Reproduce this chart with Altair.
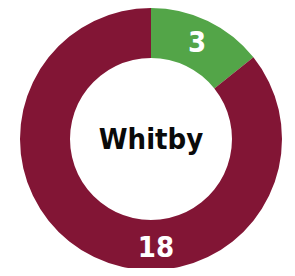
import math
import altair as alt
import pandas as pd

categories = ["Green", "Maroon"]
values = [3, 18]
colors = ["#53a548", "#821535"]
center_label = "Whitby"

df = pd.DataFrame({"category": categories, "value": values, "order": [0, 1]})
df_center = pd.DataFrame({"label": [center_label]})

color_scale = alt.Scale(domain=categories, range=colors)

base = alt.Chart(df).encode(
    theta=alt.Theta("value:Q", stack=True),
    order=alt.Order("order:Q"),
    color=alt.Color("category:N", scale=color_scale, legend=None),
)

arc = base.mark_arc(innerRadius=81, outerRadius=131, stroke=None)

label_font = "DejaVu Sans Condensed, DejaVu Sans, sans-serif"

text_first = base.mark_text(
    radius=106, font=label_font, fontWeight="bold", fontSize=29,
    baseline="middle", align="center",
).encode(
    text=alt.condition(alt.datum.category == categories[0], "value:Q", alt.value("")),
    color=alt.value("white"),
)

text_second = alt.Chart(df).transform_filter(
    alt.datum.category == categories[1]
).mark_text(
    radius=109, font=label_font, fontWeight="bold", fontSize=29,
    color="white", baseline="middle", align="center",
).encode(
    theta=alt.value(math.pi - 0.045),
    text="value:Q",
)

center = alt.Chart(df_center).mark_text(
    radius=0, font=label_font, fontWeight="bold", fontSize=29,
    color="#0a0a0a", baseline="middle", align="center", dy=1,
).encode(
    theta=alt.value(0),
    text="label:N",
)

chart = alt.layer(arc, text_first, text_second, center).properties(
    width=272, height=258,
    padding={"left": 7, "top": 2, "right": 0, "bottom": 0},
    autosize=alt.AutoSizeParams(type="none"),
    background="white",
).configure_view(stroke=None)

chart.save("out.html", embed_options={"renderer": "svg", "actions": False})
